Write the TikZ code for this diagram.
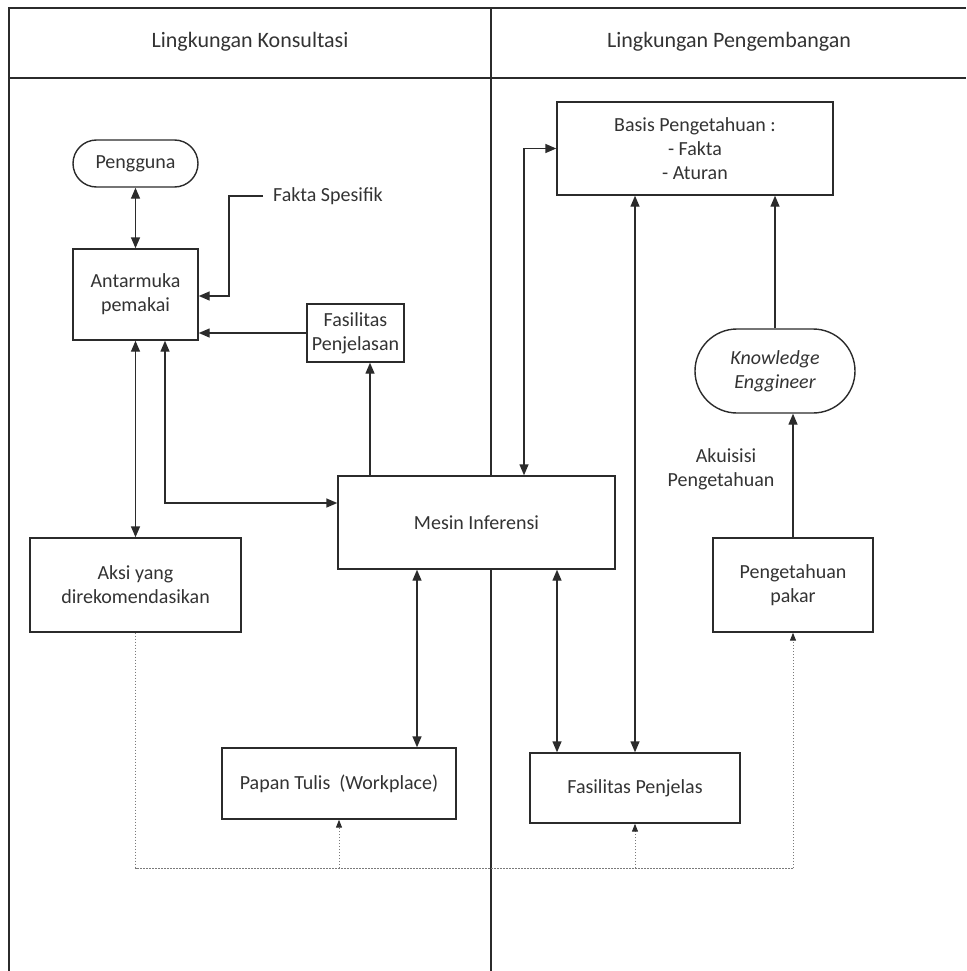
\documentclass[tikz,border=0pt]{standalone}
\usepackage{fontspec}
\setmainfont{Carlito}
\usetikzlibrary{arrows.meta,shapes.misc,calc}
\definecolor{ln}{HTML}{2B2B2B}
\definecolor{tx}{HTML}{333333}
\definecolor{dt}{HTML}{7A7A7A}
\begin{document}
\begin{tikzpicture}[x=1pt,y=-1pt,
  frame/.style={draw=ln,line width=1.4pt},
  box/.style={draw=ln,line width=1.4pt,fill=white,align=center,text=tx,
    font=\fontsize{20}{24}\selectfont,inner sep=0pt},
  pill/.style={box,rounded rectangle},
  lbl/.style={text=tx,align=center,font=\fontsize{20}{24}\selectfont},
  hdr/.style={text=tx,font=\fontsize{22}{26}\selectfont},
  arr/.style={draw=ln,line width=1.4pt,-{Triangle[length=11pt,width=9pt]}},
  darr/.style={draw=ln,line width=1.4pt,{Triangle[length=11pt,width=9pt]}-{Triangle[length=11pt,width=9pt]}},
  dotln/.style={draw=dt,line width=1pt,dash pattern=on 1.5pt off 1.5pt},
  dotarr/.style={dotln,-{Triangle[length=8pt,width=6pt,color=ln]}}]
\useasboundingbox (0,0) rectangle (966,971);
% frame
\draw[frame] (9,971) -- (9,8) -- (966,8);
\draw[frame] (9,78) -- (966,78);
\draw[frame] (491,8) -- (491,971);
\node[hdr] (h1) at (250,42) {Lingkungan Konsultasi};
\node[hdr] (h2) at (729,42) {Lingkungan Pengembangan};
% nodes
\node[pill,minimum width=125pt,minimum height=47pt] (peng) at (135.5,163.5) {Pengguna};
\node[box,minimum width=125pt,minimum height=91pt] (ant) at (135.5,294.5) {Antarmuka\\pemakai};
\node[lbl,anchor=west,inner xsep=10pt] (fakta) at (263,196) {Fakta Spesifik};
\node[box,minimum width=97pt,minimum height=58pt] (fpj) at (355.5,333) {Fasilitas\\Penjelasan};
\node[box,minimum width=277pt,minimum height=93pt] (mes) at (476.5,522.5) {Mesin Inferensi};
\node[box,minimum width=211pt,minimum height=94pt] (aksi) at (135.5,585) {Aksi yang\\direkomendasikan};
\node[box,minimum width=234pt,minimum height=71pt] (papan) at (339,783.5) {Papan Tulis~~(Workplace)};
\node[box,minimum width=276pt,minimum height=93pt] (basis) at (695,148.5) {Basis Pengetahuan :\\- Fakta\\- Aturan};
\node[box,minimum width=210pt,minimum height=70pt] (fpn) at (635,788) {Fasilitas Penjelas};
\node[pill,minimum width=160pt,minimum height=84pt,font=\fontsize{20}{24}\selectfont\itshape] (ke) at (775,371) {Knowledge\\Enggineer};
\node[box,minimum width=160pt,minimum height=94pt] (pakar) at (793,585) {Pengetahuan\\pakar};
\node[lbl] (akui) at (721,469) {\hspace*{10pt}Akuisisi\\Pengetahuan};
\coordinate (fk) at (229,296);
\coordinate (dl) at (0,868);
% connectors
\draw[darr] (peng.south) -- (ant.north);
\draw[arr] (fakta.west) -| (fk) -- (fk -| ant.east);
\draw[arr] (fpj.west) -- (fpj.west -| ant.east);
\draw[arr] ([xshift=-106.5pt]mes.north) -- ([xshift=-106.5pt]mes.north |- fpj.south);
\draw[darr] (ant.south) -- (aksi.north);
\draw[darr] ([xshift=29.5pt]ant.south) |- ([yshift=19.5pt]mes.west);
\draw[darr] ([xshift=78pt]papan.north) -- ([xshift=78pt]papan.north |- mes.south);
\draw[darr] ([xshift=47.5pt]mes.north) |- (basis.west);
\draw[darr] ([xshift=-78pt]fpn.north) -- ([xshift=-78pt]fpn.north |- mes.south);
\draw[darr] (fpn.north) -- (fpn.north |- basis.south);
\draw[arr] (ke.north) -- (ke.north |- basis.south);
\draw[arr] (pakar.north) -- (pakar.north |- ke.south);
% dotted
\draw[dotln] (aksi.south) -- (aksi.south |- dl) -- (pakar.south |- dl);
\draw[dotarr] (pakar.south |- dl) -- (pakar.south);
\draw[dotarr] (papan.south |- dl) -- (papan.south);
\draw[dotarr] (fpn.south |- dl) -- (fpn.south);
\end{tikzpicture}
\end{document}
